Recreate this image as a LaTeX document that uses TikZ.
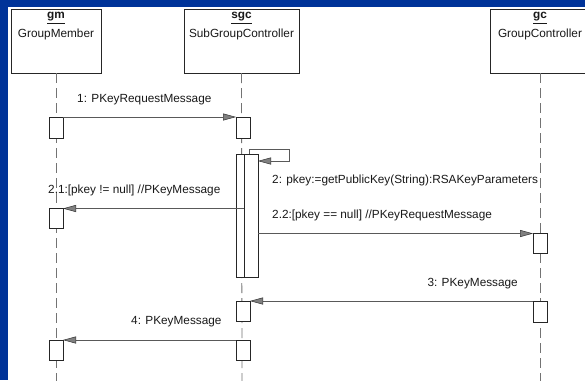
\documentclass[tikz,border=0pt]{standalone}
\usepackage{fontspec}
\setmainfont{Liberation Sans}
\usetikzlibrary{arrows.meta}
\definecolor{frameblue}{RGB}{0,51,153}
\newcommand{\lbfont}{\fontsize{11.8}{13}\selectfont}
\tikzset{
  obj/.style={draw=black!85, fill=white, line width=0.8pt, minimum height=64pt, inner sep=0pt, outer sep=0pt},
  act/.style={draw=black!85, fill=white, line width=0.8pt, minimum width=14pt, inner sep=0pt, outer sep=0pt},
  life/.style={draw=black!55, line width=0.8pt, dash pattern=on 10pt off 5pt},
  msg/.style={draw=black!65, line width=0.8pt, -{Triangle[length=13pt,width=7pt,color=black!80,fill=black!50,line width=0.5pt]}},
  lbl/.style={font=\lbfont, text=black!90, inner sep=0pt, anchor=west},
  ttl/.style={font=\lbfont, text=black!90, inner sep=0pt}
}
\begin{document}
\begin{tikzpicture}[x=1pt,y=-1pt]
\clip (0,0) rectangle (585,380);
\fill[frameblue] (0,0) rectangle (585,380);
\fill[white] (8,7) rectangle (585,380);
% lifeline ends
\coordinate (gmend) at (56,381);
\coordinate (sgcend) at (242,381);
\coordinate (gcend) at (540,381);
% objects
\node[obj, minimum width=90pt] (gm) at (56,41) {};
\node[obj, minimum width=115pt] (sgc) at (241.5,41) {};
\node[obj, minimum width=100pt] (gc) at (540,41) {};
\node[ttl] (gmn) at (56,18) {\underline{\textbf{gm}}};
\node[ttl] (gmc) at (56,34) {GroupMember};
\node[ttl] (sgcn) at (241.5,18) {\underline{\textbf{sgc}}};
\node[ttl] (sgcc) at (241.5,34) {SubGroupController};
\node[ttl] (gcn) at (540,18) {\underline{\textbf{gc}}};
\node[ttl] (gcc) at (540,34) {GroupController};
% lifelines
\draw[life] (gm.south) -- (gmend);
\draw[life] (sgc.south) -- (sgcend);
\draw[life] (gc.south) -- (gcend);
% activations
\node[act, minimum height=21pt, anchor=north] (a1) at (56,117) {};
\node[act, minimum height=21pt, anchor=north] (b1) at (243,117) {};
\node[act, minimum height=123pt, anchor=north] (b2) at (243,154) {};
\node[act, minimum height=123pt, anchor=north] (b3) at (251,154) {};
\node[act, minimum height=20pt, anchor=north] (a2) at (56,208.5) {};
\node[act, minimum height=20pt, anchor=north] (c1) at (540,233.5) {};
\node[act, minimum height=21pt, anchor=north] (c2) at (540,301) {};
\node[act, minimum height=20pt, anchor=north] (b4) at (243,301) {};
\node[act, minimum height=20pt, anchor=north] (a3) at (56,340) {};
\node[act, minimum height=20pt, anchor=north] (b5) at (243,340) {};
% messages
\draw[msg] (a1.north east) -- (b1.north west);
\coordinate (s0) at (249,154);
\coordinate (s1) at (249,149);
\coordinate (s2) at (289,149);
\coordinate (s3) at (289,161);
\coordinate (s4) at (258,161);
\draw[msg] (s0) -- (s1) -- (s2) -- (s3) -- (s4);
\draw[msg] (b3.west |- a2.north) -- (a2.north east);
\draw[msg] (b3.east |- c1.north) -- (c1.north west);
\draw[msg] (c2.north west) -- (b4.north east);
\draw[msg] (b5.north west) -- (a3.north east);
% labels
\node[lbl] (l1) at (77,99.5) {1: PKeyRequestMessage};
\node[lbl] (l2) at (272,180.5) {2: pkey:=getPublicKey(String):RSAKeyParameters};
\node[lbl] (l21) at (48,190) {2.1:[pkey != null] //PKeyMessage};
\node[lbl] (l22) at (272,215) {2.2:[pkey == null] //PKeyRequestMessage};
\node[lbl, anchor=east] (l3) at (518,284) {3: PKeyMessage};
\node[lbl] (l4) at (131,322) {4: PKeyMessage};
\end{tikzpicture}
\end{document}
